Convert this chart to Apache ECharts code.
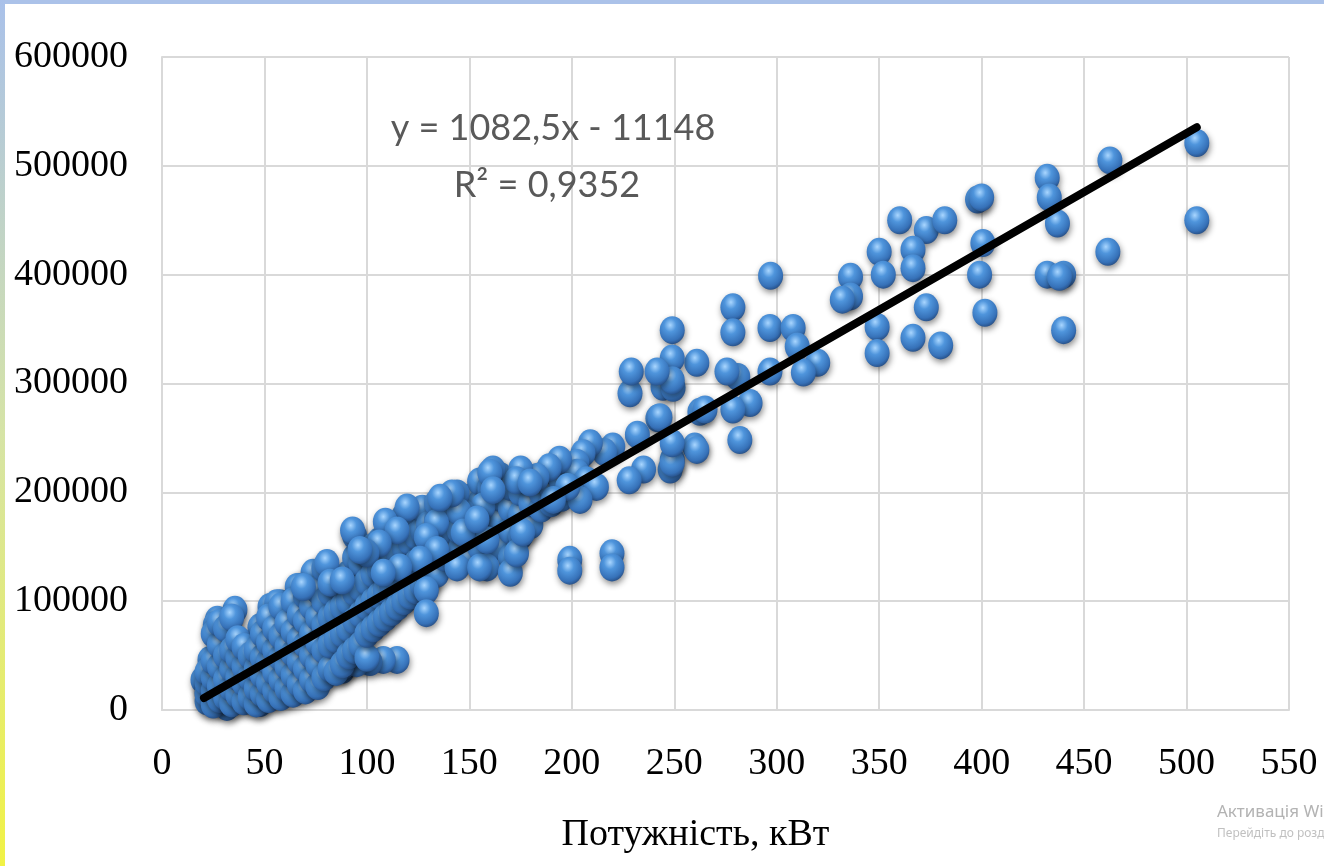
<!DOCTYPE html>
<html>
<head>
<meta charset="utf-8">
<script src="https://cdn.jsdelivr.net/npm/echarts@6/dist/echarts.min.js"></script>
<style>
html,body{margin:0;padding:0;background:#fff;}
#chart{width:1324px;height:866px;}
</style>
</head>
<body>
<div id="chart"></div>
<script>
// ---- data (x: power, kW; y: value in thousands) ----
const xTicks = [0,50,100,150,200,250,300,350,400,450,500,550];
const yTicks = [0,100000,200000,300000,400000,500000,600000];
const xAxisTitle = 'Потужність, кВт';
const equationLine1 = 'y = 1082,5x - 11148';
const equationLine2 = 'R² = 0,9352';

// upper range, individual points [kW, thousand]
const pointsHigh = [
  [505,521],[505,450],[462.6,505],[461.6,421],
  [432,489],[433,471],[437,447],[432,400],[440,400],[438,398],[440,349],
  [398,469],[400,471],[400.6,429],[399,400],[401.6,365],
  [360,450],[373,441],[382,450],[366.5,423],[366.5,406],[373,370],[366.5,342],[380,335],
  [350,421],[352,400],[349,352],[349,328],[336,398],[336,380],[332,377],
  [296.7,351],[308,351],[310,334],[320,319],[313,310],[296.7,311],[297,399],
  [278.6,370],[278.6,347],[281,306],[275.7,311],[287,282],[278.6,276],[282,248],
  [265,276],[261,319],[249,349],[249,323],[249,303],[241.6,311],[243,269],
  [261,239],[249,227],[249,245]
];
// middle range [kW, thousand]
const pointsMid = [
  [228.4,291],[229,311],[244.5,297],[249.4,296],[242,268],[262.5,274],[260,242],[249,230],[248,221],
  [232,253],[235,221],[228,211],[220,242],[216,237],[209,245],[205.5,236],[202.5,227],[202.5,218],
  [207,211],[212,205],[204,193],[194,230],[189,223],[198,205],[191,193],[183,214],[175,221],
  [173,211],[161.5,221],[160,205],[156.6,187],[153.7,175],[147,181],[144,199],[145,165],
  [158.6,131],[170,126],[173,144],[176,163],[179.6,209],[199,138],[199,128],[219.6,144],[219.6,131],
  [160,218],[161.5,202],[145,182],[134,172],[129,159],[134,147],[126,138],[141.5,199],[135.7,195],
  [119.6,186],[109,173],[93,165],[114.7,165],[106,153],[100,144],[96.6,147],[80.5,135],
  [69,113],[82,117],[88,119],[129,110],[129,89],[116,131],[108,126],[144,131],[155,131],
  [158.6,156],[147,163],[153.7,175]
];
// low range, dense cluster [kW, thousand]
const pointsLow = [
  [35.6,92],[33,73.5],[34.6,60],[27,83],[23.4,46],[20,27.6],[22,15.6],[28,9],[39.5,46],
  [44.4,61.6],[47.8,76],[52.7,94.7],[57.6,98],[67,113],[73.7,126],[64,76],[59,61.6],
  [52.7,43],[47.8,27.6],[39.5,15.6],[56,15.6],[64,21],[73.7,30],[83.5,43],[88,37],[75.6,52],
  [69,58],[90,67],[93,46],[31.7,2.8],[47.8,6.4],
  [114.7,46],[108,46],[101.5,44],[95,43],[88,40],[66,113],[56,98],[26,78],
  [22,8],[22,15],[22,25],[22,35],[25,5],[25,18],[25,30],[25,45],[25,70],
  [28,10],[28,22],[28,40],[28,60],[28,80],[31,12],[31,28],[31,50],[31,75],
  [34,6],[34,20],[34,38],[34,55],[34,85],[37,14],[37,30],[37,48],[37,65],
  [40,8],[40,25],[40,40],[40,58],[43,12],[43,30],[43,50],[46,6],[46,20],[46,38],[46,55],
  [49,15],[49,32],[49,48],[49,70],[52,10],[52,25],[52,45],[52,62],[52,85],
  [55,18],[55,35],[55,55],[55,75],[58,12],[58,28],[58,48],[58,68],[58,95],
  [61,20],[61,40],[61,58],[61,80],[64,15],[64,32],[64,52],[64,72],[64,100],
  [67,24],[67,45],[67,65],[67,88],[70,18],[70,38],[70,60],[70,82],[70,105],
  [73,28],[73,50],[73,70],[73,95],[76,22],[76,42],[76,62],[76,85],[76,110],
  [79,30],[79,55],[79,78],[79,100],[79,130],[82,38],[82,60],[82,85],[82,108],
  [85,35],[85,65],[85,90],[85,115],[88,42],[88,70],[88,95],[88,120],
  [91,50],[91,75],[91,100],[91,125],[94,55],[94,82],[94,108],[94,140],[94,160],
  [97,60],[97,88],[97,112],[97,135],[100,48],[100,70],[100,95],[100,118],[100,145],
  [103,75],[103,100],[103,125],[103,150],[106,80],[106,105],[106,130],[106,155],
  [109,85],[109,110],[109,135],[109,160],[112,90],[112,115],[112,140],[112,165],
  [115,95],[115,120],[115,145],[115,170],[118,100],[118,125],[118,150],[118,178],
  [121,105],[121,130],[121,155],[121,180],[124,110],[124,135],[124,160],
  [127,115],[127,140],[127,165],[127,185],[130,120],[130,145],[130,170],
  [134,125],[134,150],[134,175],[134,190],[138,140],[138,160],[138,180],
  [142,145],[142,165],[142,185],[146,150],[146,170],[146,190],
  [150,140],[150,160],[150,180],[150,195],[155,150],[155,170],[155,190],[155,210],
  [160,160],[160,180],[160,200],[165,150],[165,175],[165,195],[165,215],
  [170,140],[170,165],[170,185],[170,205],[175,160],[175,180],[175,200],
  [180,170],[180,190],[180,210],[185,185],[185,200],[185,215],[190,190],[190,205],[190,220],
  [195,195],[195,210],[195,225]
];
// trend line end points, from y = 1082.5x - 11148
const trendX = [20.5, 505];
const trendY = [11043, 535514];

// ---- chart ----
const allPoints = pointsLow.concat(pointsMid, pointsHigh).map(p => [p[0], p[1] * 1000]);
const trendData = trendX.map((x, i) => [x, trendY[i]]);

const chart = echarts.init(document.getElementById('chart'), null, {renderer: 'canvas'});
const ballColor = {
  type: 'radial', x: 0.42, y: 0.32, r: 0.7,
  colorStops: [
    {offset: 0, color: '#a9d6ff'},
    {offset: 0.35, color: '#4f95dc'},
    {offset: 0.8, color: '#3671b8'},
    {offset: 1, color: '#274f86'}
  ]
};
const serif = 'Liberation Serif, Times New Roman, serif';

chart.setOption({
  animation: false,
  backgroundColor: '#ffffff',
  grid: {left: 162, right: 35, top: 57, bottom: 156, containLabel: false},
  xAxis: {
    type: 'value', min: 0, max: 550, interval: 50,
    axisLine: {show: true, lineStyle: {color: '#d9d9d9', width: 2}},
    axisTick: {show: false},
    splitLine: {show: true, lineStyle: {color: '#d9d9d9', width: 2}},
    axisLabel: {
      margin: 35, fontFamily: serif, fontSize: 38, color: '#000',
      formatter: v => xTicks.indexOf(v) >= 0 ? String(v) : ''
    },
    name: xAxisTitle, nameLocation: 'middle', nameGap: 106,
    nameTextStyle: {fontFamily: serif, fontSize: 38, color: '#000', padding: [0, 60, 0, 0]}
  },
  yAxis: {
    type: 'value', min: 0, max: 600000, interval: 100000,
    axisLine: {show: true, lineStyle: {color: '#d9d9d9', width: 2}},
    axisTick: {show: false},
    splitLine: {show: true, lineStyle: {color: '#d9d9d9', width: 2}},
    axisLabel: {
      margin: 34, fontFamily: serif, fontSize: 38, color: '#000',
      formatter: v => yTicks.indexOf(v) >= 0 ? String(v) : ''
    }
  },
  series: [
    {
      type: 'scatter', data: allPoints, symbol: 'circle', symbolSize: [25, 28],
      large: false, z: 2,
      itemStyle: {
        color: ballColor, opacity: 1,
        shadowBlur: 6, shadowColor: 'rgba(0,0,0,0.45)', shadowOffsetX: 1, shadowOffsetY: 3
      },
      emphasis: {disabled: true}
    },
    {
      type: 'line', data: trendData, symbol: 'none', z: 5,
      lineStyle: {color: '#000', width: 8, cap: 'round'},
      silent: true
    }
  ],
  graphic: [
    {type: 'rect', left: 0, top: 0, shape: {width: 1324, height: 4}, style: {fill: '#abc2e9'}, z: 100},
    {type: 'rect', left: 0, top: 0, shape: {width: 5, height: 866},
      style: {fill: new echarts.graphic.LinearGradient(0, 0, 0, 1, [
        {offset: 0, color: '#a9c1ea'}, {offset: 0.5, color: '#d6e4a6'}, {offset: 1, color: '#f1f245'}
      ])}, z: 100},
    {type: 'text', x: 553, y: 128, z: 50,
      style: {text: equationLine1, fontFamily: 'Lato, Open Sans, sans-serif', fontSize: 36,
        fill: '#595959', align: 'center', verticalAlign: 'middle'}},
    {type: 'text', x: 547, y: 185, z: 50,
      style: {text: equationLine2, fontFamily: 'Lato, Open Sans, sans-serif', fontSize: 36,
        fill: '#595959', align: 'center', verticalAlign: 'middle'}},
    {type: 'text', x: 1217, y: 812, z: 50,
      style: {text: 'Активація Windows', fontFamily: 'Noto Sans, sans-serif', fontSize: 17,
        fill: '#b3b3b3', verticalAlign: 'middle'}},
    {type: 'text', x: 1217, y: 834, z: 50,
      style: {text: 'Перейдіть до розділу "Параметри", щоб активувати Windows.', fontFamily: 'Noto Sans, sans-serif', fontSize: 12,
        fill: '#c0c0c0', verticalAlign: 'middle'}}
  ]
});
</script>
</body>
</html>
